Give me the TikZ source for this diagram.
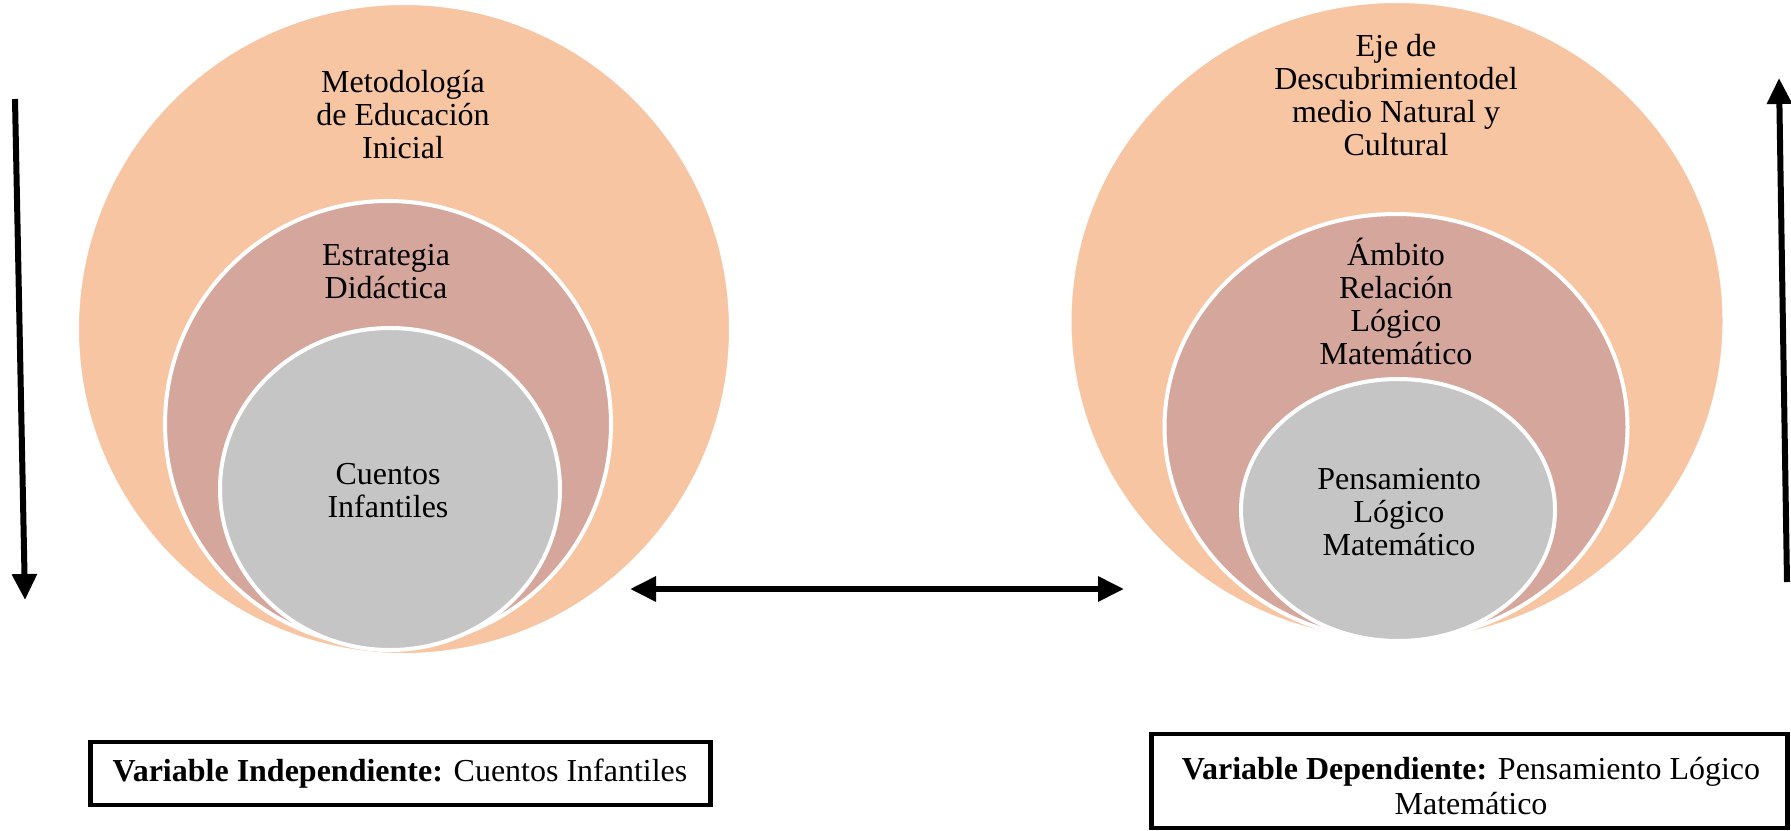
\documentclass[tikz,border=0pt]{standalone}
\usepackage{fontspec}
\setmainfont{Liberation Serif}
\usetikzlibrary{arrows.meta,shapes.geometric}
\definecolor{orangec}{HTML}{F7C5A2}
\definecolor{pinkc}{HTML}{D5A69C}
\definecolor{greyc}{HTML}{C5C5C5}
\tikzset{
  ring/.style={ellipse, draw=white, line width=4pt, inner sep=0pt},
  txt/.style={align=center, font=\fontsize{32}{33}\selectfont, inner sep=0pt},
  bigarrow/.style={line width=6pt, -{Triangle[width=24pt,length=26pt]}},
  dblarrow/.style={line width=6pt, {Triangle[width=24pt,length=26pt]}-{Triangle[width=24pt,length=26pt]}},
  varbox/.style={draw=black, line width=4.5pt, fill=white}
}
\begin{document}
\begin{tikzpicture}[x=1pt,y=-1pt]
\useasboundingbox (0,0) rectangle (1791,830);
% left group
\node[ring, fill=orangec, minimum width=654pt, minimum height=652pt] (lo) at (404,329) {};
\node[ring, fill=pinkc, minimum width=446pt, minimum height=446pt] (lp) at (388,424) {};
\node[ring, fill=greyc, minimum width=340pt, minimum height=322pt] (lg) at (390,489) {};
\node[txt] (lot) at (403,115) {Metodología\\de Educación\\Inicial};
\node[txt] (lpt) at (386,272) {Estrategia\\Didáctica};
\node[txt] (lgt) at (388,491) {Cuentos\\Infantiles};
% right group
\node[ring, fill=orangec, minimum width=655pt, minimum height=640pt] (ro) at (1397,321) {};
\node[ring, fill=pinkc, minimum width=463pt, minimum height=426pt] (rp) at (1396,427) {};
\node[ring, fill=greyc, minimum width=314pt, minimum height=262pt] (rg) at (1398,510) {};
\node[txt] (rot) at (1396,95) {Eje de\\Descubrimientodel\\medio Natural y\\Cultural};
\node[txt] (rpt) at (1396,301) {Ámbito\\Relación\\Lógico\\Matemático};
\node[txt] (rgt) at (1399,512) {Pensamiento\\Lógico\\Matemático};
% arrows
\coordinate (la1) at (15,99);
\coordinate (la2) at (25,600);
\draw[bigarrow] (la1) -- (la2);
\coordinate (ra1) at (1787,582);
\coordinate (ra2) at (1779,78);
\draw[bigarrow] (ra1) -- (ra2);
\coordinate (ha1) at (630,589);
\coordinate (ha2) at (1124,589);
\draw[dblarrow] (ha1) -- (ha2);
% boxes
\node[varbox, minimum width=620pt, minimum height=63pt, inner sep=0pt] (lbox) at (400.5,773.5) {};
\node[txt] (lboxt) at (400,774) {\textbf{Variable Independiente:} Cuentos Infantiles};
\node[varbox, minimum width=636pt, minimum height=94pt, inner sep=0pt] (rbox) at (1469.5,781) {};
\node[txt, font=\fontsize{32}{35}\selectfont] (rboxt) at (1471,786) {\textbf{Variable Dependiente:} Pensamiento Lógico\\Matemático};
\end{tikzpicture}
\end{document}
